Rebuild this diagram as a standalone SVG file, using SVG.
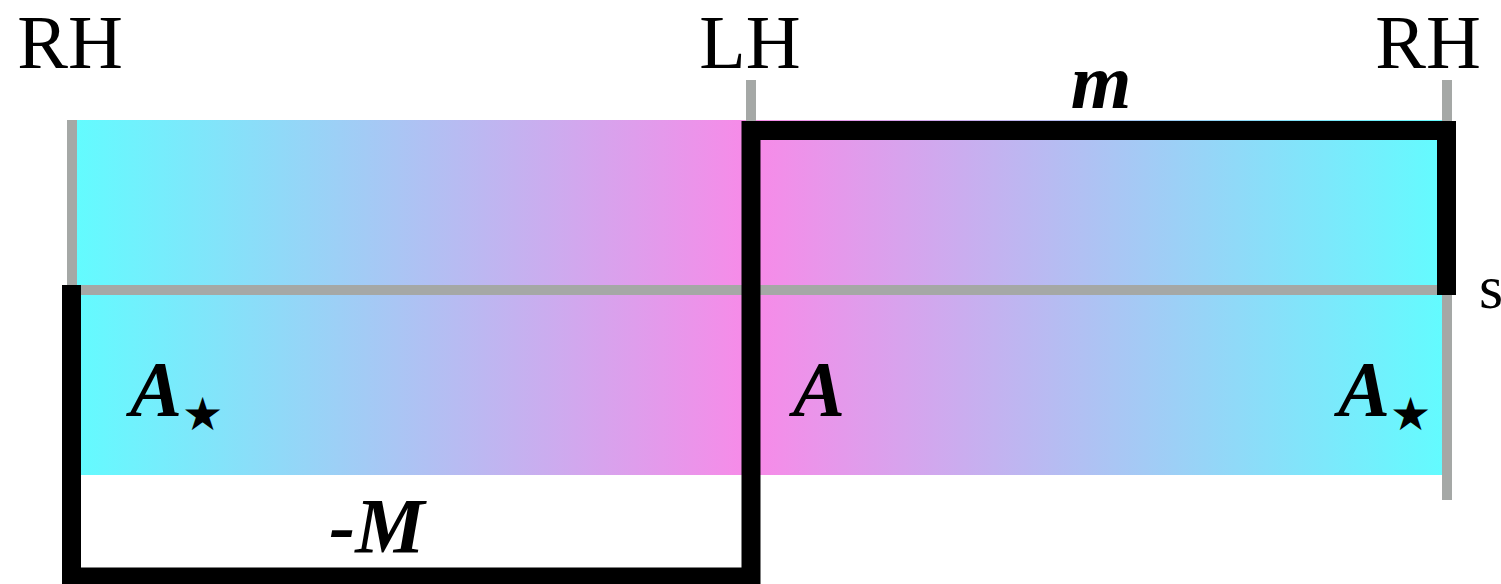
<svg xmlns="http://www.w3.org/2000/svg" width="1501" height="584" viewBox="0 0 1501 584">
<defs>
<linearGradient id="gL" x1="0" y1="0" x2="1" y2="0"><stop offset="0" stop-color="#62FCFF"/><stop offset="1" stop-color="#F88AE8"/></linearGradient>
<linearGradient id="gR" x1="0" y1="0" x2="1" y2="0"><stop offset="0" stop-color="#F88AE8"/><stop offset="1" stop-color="#62FCFF"/></linearGradient>
<style>
.g{stroke:#A5A8A6;stroke-width:10;fill:none}
.k{stroke:#000;stroke-width:19;fill:none;stroke-linejoin:miter}
.lab{font-family:"Liberation Serif",serif;font-size:76px;fill:#000}
.math{font-family:"Liberation Serif",serif;font-size:78px;font-weight:bold;font-style:italic;fill:#000}
.star{font-family:"DejaVu Sans",sans-serif;font-size:46px;font-style:normal;font-weight:normal}
</style>
</defs>
<g id="regions">
<rect x="72" y="120" width="679" height="355" fill="url(#gL)"/>
<rect x="751" y="120" width="696" height="355" fill="url(#gR)"/>
</g>
<g id="connectors">
<line class="g" x1="72" y1="290" x2="1447" y2="290"/>
<line class="g" x1="72" y1="120" x2="72" y2="290"/>
<line class="g" x1="751" y1="80" x2="751" y2="290"/>
<line class="g" x1="1447" y1="80" x2="1447" y2="500"/>
<path class="k" d="M71.5,285 L71.5,577 L751,577 L751,130.5 L1446.5,130.5 L1446.5,295"/>
</g>
<g id="labels">
<text class="lab" x="70" y="68" text-anchor="middle">RH</text>
<text class="lab" x="750" y="68" text-anchor="middle">LH</text>
<text class="lab" x="1428" y="68" text-anchor="middle">RH</text>
<text class="lab" x="1479" y="308" style="font-size:62px">s</text>
<text class="math" x="1101" y="108" text-anchor="middle">m</text>
<text class="math" x="130" y="415">A<tspan class="star" dy="15">★</tspan></text>
<text class="math" x="793" y="415">A</text>
<text class="math" x="1338" y="415">A<tspan class="star" dy="15">★</tspan></text>
<text class="math" x="377" y="552" text-anchor="middle">-M</text>
</g>
</svg>
